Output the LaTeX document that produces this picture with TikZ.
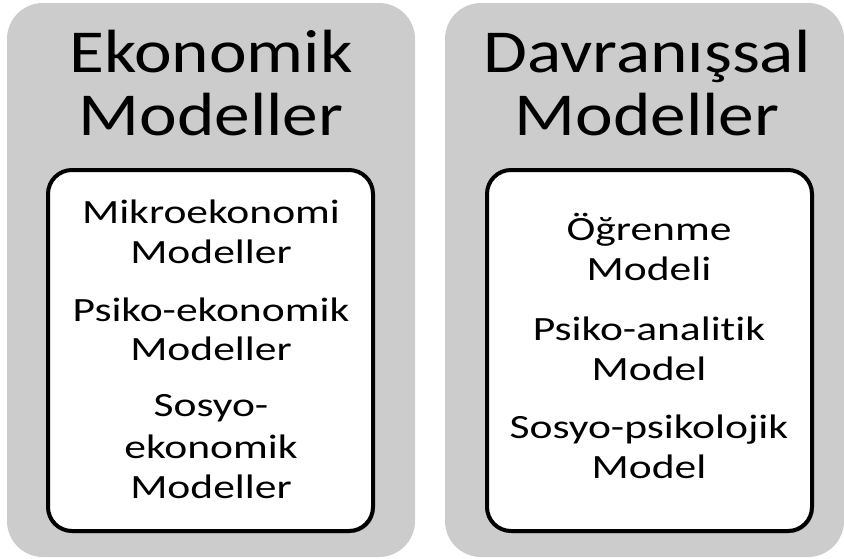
\documentclass[tikz,border=0pt]{standalone}
\usepackage{fontspec}
\setmainfont{Carlito}
\newfontfamily\headfont[FakeStretch=1.17,Ligatures=NoCommon]{Carlito}
\newfontfamily\itemfont[FakeStretch=1.28,Ligatures=NoCommon]{Carlito}
\usetikzlibrary{shadows}
\definecolor{panelgray}{RGB}{204,204,204}
\tikzset{
  panel/.style={fill=panelgray, draw=none, rounded corners=36pt},
  listbox/.style={fill=white, draw=black, line width=4pt, rounded corners=24pt,
    drop shadow={shadow xshift=1.5pt, shadow yshift=-2pt, opacity=0.35, fill=black}},
  headline/.style={anchor=base, inner sep=0pt, font=\headfont\fontsize{61}{63}\selectfont},
  itemline/.style={anchor=base, inner sep=0pt, font=\itemfont\fontsize{34}{40}\selectfont},
}
\begin{document}
\begin{tikzpicture}[x=1pt, y=-1pt]
  \useasboundingbox (0,0) rectangle (844,558);

  % two grey panels
  \path[panel] (7,3) rectangle (415,557);
  \path[panel] (445,3) rectangle (844,557);

  % white list boxes
  \path[listbox] (48,170) rectangle (373,531);
  \path[listbox] (487,170) rectangle (812,531);

  % left panel
  \node[headline] (eh1) at (211,72) {Ekonomik};
  \node[headline] (eh2) at (211,135) {Modeller};
  \node[itemline] (e1a) at (211,223) {Mikroekonomi};
  \node[itemline] (e1b) at (211,263) {Modeller};
  \node[itemline] (e2a) at (211,321) {Psiko-ekonomik};
  \node[itemline] (e2b) at (211,360) {Modeller};
  \node[itemline] (e3a) at (211,416) {Sosyo-};
  \node[itemline] (e3b) at (211,458) {ekonomik};
  \node[itemline] (e3c) at (211,498) {Modeller};

  % right panel
  \node[headline] (dh1) at (647,72) {Davranışsal};
  \node[headline] (dh2) at (647,135) {Modeller};
  \node[itemline] (d1a) at (649,240) {Öğrenme};
  \node[itemline] (d1b) at (649,280) {Modeli};
  \node[itemline] (d2a) at (649,340) {Psiko-analitik};
  \node[itemline] (d2b) at (649,380) {Model};
  \node[itemline] (d3a) at (649,438) {Sosyo-psikolojik};
  \node[itemline] (d3b) at (649,478) {Model};
\end{tikzpicture}
\end{document}
